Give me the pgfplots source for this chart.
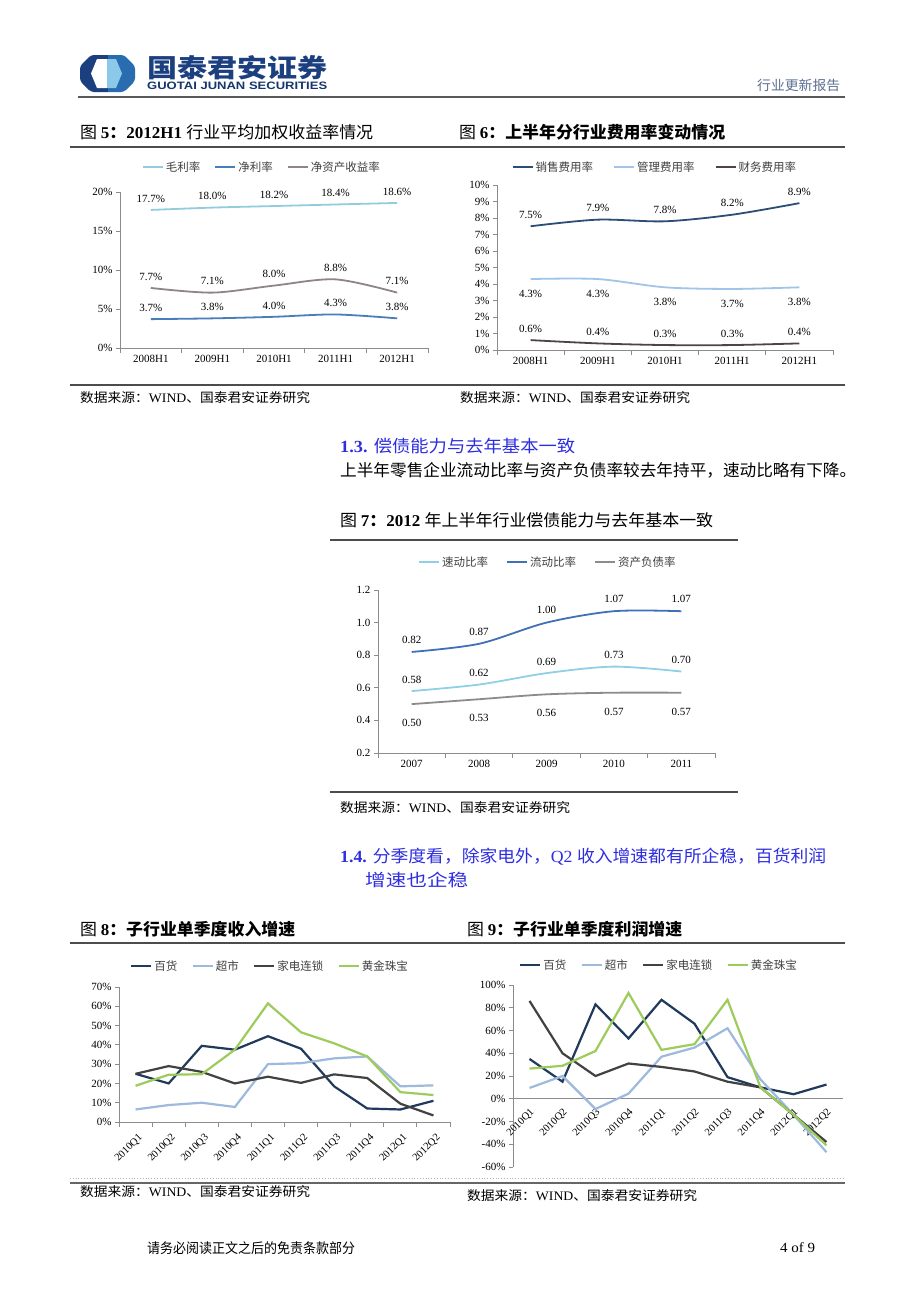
\documentclass[border=0pt]{standalone}
\usepackage{fontspec}
\setmainfont{Liberation Serif}
\newfontfamily\cjk{Noto Sans CJK SC}
\newfontfamily\sanslogo{Liberation Sans}
\usepackage{graphicx}
\usepackage{pgfplots}
\pgfplotsset{compat=1.18}
\pgfkeys{/pgf/number format/assume math mode=true}

\definecolor{cA}{HTML}{93CDDD}
\definecolor{cB}{HTML}{4A7EBB}
\definecolor{cC}{HTML}{8E8585}
\definecolor{dA}{HTML}{2C4D75}
\definecolor{dB}{HTML}{A1C4EA}
\definecolor{dC}{HTML}{4F4444}
\definecolor{eA}{HTML}{8FD0E6}
\definecolor{eB}{HTML}{4170B8}
\definecolor{eC}{HTML}{8C8C8C}
\definecolor{fA}{HTML}{1F3A5A}
\definecolor{fB}{HTML}{9DB9DE}
\definecolor{fC}{HTML}{424242}
\definecolor{fD}{HTML}{9DCB5C}
\definecolor{axgray}{HTML}{8C8C8C}
\definecolor{hblue}{HTML}{2E2EE0}
\definecolor{logoblue}{HTML}{1B3F7F}
\definecolor{logomid}{HTML}{2A6CB0}
\definecolor{logolight}{HTML}{8CC8E8}
\definecolor{hdrgray}{HTML}{5D7090}

\newcommand\fs[1]{\fontsize{#1}{#1}\selectfont}
\newcommand\fitw[2]{\resizebox{#1}{\height}{#2}}
\newcommand\src{{\cjk 数据来源：}WIND{\cjk 、国泰君安证券研究}}

\pgfplotsset{
  pg/.style={
    scale only axis, anchor=south west,
    axis x line*=bottom, axis y line*=left,
    axis line style={draw=axgray, line width=0.9pt},
    tick style={draw=axgray, line width=0.8pt},
    tick align=outside,
    major tick length=4pt, minor tick length=5pt,
    major x tick style={draw=none},
    ticklabel style={font=\fs{11}},
    legend style={draw=none, fill=none, font=\fs{11.5}, text=black!75,
      legend columns=-1, anchor=center,
      /tikz/every even column/.append style={column sep=12pt}},
    legend image code/.code={\draw[##1, line width=2pt] (0pt,0pt) -- (20pt,0pt);},
    clip=false,
    every node near coord/.append style={font=\fs{11}, text=black},
  },
  thickleg/.style={legend image code/.code={\draw[##1, line width=2.5pt] (0pt,0pt) -- (20pt,0pt);}},
  pct/.style={point meta=y, nodes near coords={\pgfmathprintnumber[fixed,fixed zerofill,precision=1]{\pgfplotspointmeta}\%}},
  dec/.style={point meta=y, nodes near coords={\pgfmathprintnumber[fixed,fixed zerofill,precision=2]{\pgfplotspointmeta}}},
  ab/.style={every node near coord/.append style={anchor=south, yshift=#1}},
  be/.style={every node near coord/.append style={anchor=north, yshift=#1}},
}

\begin{document}
\begin{tikzpicture}[x=1pt,y=1pt]
\fill[white] (0,0) rectangle (920,-1301);
\path[use as bounding box] (0,0) rectangle (920,-1301);
\coordinate (p5) at (120,-348);
\coordinate (p6) at (497,-350);
\coordinate (p7) at (378,-753);
\coordinate (p8) at (119,-1122);
\coordinate (p9) at (513,-1167);

% ---------- header ----------
\begin{scope}
\path[clip, rounded corners=3pt] (91,-55) -- (124,-55) -- (135,-66) -- (135,-81) -- (124,-92) -- (91,-92) -- (80,-81) -- (80,-66) -- cycle;
\fill[logoblue] (78,-53) rectangle (108,-94);
\fill[logomid] (108,-53) rectangle (137,-94);
\end{scope}
\begin{scope}
\path[clip] (97,-59) -- (116,-59) -- (122,-73.5) -- (116,-88) -- (97,-88) -- (91,-73.5) -- cycle;
\fill[white] (88,-57) rectangle (107,-90);
\fill[logolight] (107,-57) rectangle (124,-90);
\end{scope}
\node[anchor=west, inner sep=0, text=logoblue] at (147,-67.5) {\resizebox{180pt}{22pt}{\cjk\bfseries 国泰君安证券}};
\node[anchor=west, inner sep=0, text=logoblue!85!black] at (147,-85.5) {\resizebox{180pt}{7.5pt}{\sanslogo\bfseries GUOTAI JUNAN SECURITIES}};
\node[anchor=west, inner sep=0, text=hdrgray] at (757,-85) {\fitw{83pt}{\fs{13.5}\cjk 行业更新报告}};
\draw[line width=2pt, black!65] (78,-96.5) -- (845,-96.5);

% ---------- titles fig 5/6 ----------
\node[anchor=west, inner sep=0] at (80,-132) {\fitw{293pt}{\fs{16.5}{\cjk 图 }\textbf{5}{\cjk\bfseries ：}\textbf{2012H1} {\cjk 行业平均加权收益率情况}}};
\node[anchor=west, inner sep=0] at (459,-132) {\fitw{266pt}{\fs{16.5}{\cjk 图 }\textbf{6}{\cjk\bfseries ：上半年分行业费用率变动情况}}};
\draw[line width=2pt, black!70] (70,-147) -- (845,-147);
\draw[line width=2pt, black!70] (70,-385) -- (845,-385);
\node[anchor=west, inner sep=0] at (80,-398) {\fitw{230pt}{\fs{13}\src}};
\node[anchor=west, inner sep=0] at (460,-398) {\fitw{230pt}{\fs{13}\src}};

% ---------- Fig 5 ----------
\begin{axis}[pg, at={(p5)}, width=308pt, height=156pt,
  xmin=-0.5, xmax=4.5, ymin=0, ymax=20,
  ytick={0,5,10,15,20}, yticklabel={\pgfmathprintnumber{\tick}\%},
  xtick={0,...,4}, xticklabels={2008H1,2009H1,2010H1,2011H1,2012H1},
  minor xtick={-0.5,0.5,...,4.5},
  legend style={at={(0.461,1)}, yshift=25pt}]
\addplot[cA, line width=1.8pt, smooth, pct, ab=3.4pt] coordinates {(0,17.7)(1,18.0)(2,18.2)(3,18.4)(4,18.6)};
\addlegendentry{\cjk 毛利率}
\addplot[cB, line width=1.8pt, smooth, pct, ab=3.4pt] coordinates {(0,3.7)(1,3.8)(2,4.0)(3,4.3)(4,3.8)};
\addlegendentry{\cjk 净利率}
\addplot[cC, line width=1.8pt, smooth, pct, ab=3.4pt] coordinates {(0,7.7)(1,7.1)(2,8.0)(3,8.8)(4,7.1)};
\addlegendentry{\cjk 净资产收益率}
\end{axis}

% ---------- Fig 6 ----------
\begin{axis}[pg, at={(p6)}, width=336pt, height=165pt,
  xmin=-0.5, xmax=4.5, ymin=0, ymax=10,
  ytick={0,1,...,10}, yticklabel={\pgfmathprintnumber{\tick}\%},
  xtick={0,...,4}, xticklabels={2008H1,2009H1,2010H1,2011H1,2012H1},
  minor xtick={-0.5,0.5,...,4.5},
  legend style={at={(0.47,1)}, yshift=18pt, /tikz/every even column/.append style={column sep=18pt}}]
\addplot[dA, line width=1.8pt, smooth, pct, ab=3.4pt] coordinates {(0,7.5)(1,7.9)(2,7.8)(3,8.2)(4,8.9)};
\addlegendentry{\cjk 销售费用率}
\addplot[dB, line width=1.8pt, smooth, pct, be=-7pt] coordinates {(0,4.3)(1,4.3)(2,3.8)(3,3.7)(4,3.8)};
\addlegendentry{\cjk 管理费用率}
\addplot[dC, line width=1.8pt, smooth, pct, ab=3.4pt] coordinates {(0,0.6)(1,0.4)(2,0.3)(3,0.3)(4,0.4)};
\addlegendentry{\cjk 财务费用率}
\end{axis}

% ---------- section 1.3 ----------
\node[anchor=west, inner sep=0, text=hblue] at (340,-446) {\fitw{235pt}{\fs{17}\textbf{1.3.} {\cjk 偿债能力与去年基本一致}}};
\node[anchor=west, inner sep=0] at (340,-470) {\fitw{516pt}{\fs{16.5}\cjk 上半年零售企业流动比率与资产负债率较去年持平，速动比略有下降。}};
\node[anchor=west, inner sep=0] at (340,-520) {\fitw{373pt}{\fs{16.5}{\cjk 图 }\textbf{7}{\cjk\bfseries ：}\textbf{2012} {\cjk 年上半年行业偿债能力与去年基本一致}}};
\draw[line width=2pt, black!70] (330,-540) -- (738,-540);
\draw[line width=2pt, black!70] (330,-792) -- (738,-792);
\node[anchor=west, inner sep=0] at (340,-808) {\fitw{230pt}{\fs{13}\src}};

% ---------- Fig 7 ----------
\begin{axis}[pg, at={(p7)}, width=337pt, height=163pt,
  xmin=-0.5, xmax=4.5, ymin=0.2, ymax=1.2,
  ytick={0.2,0.4,...,1.21},
  yticklabel style={/pgf/number format/.cd, fixed, fixed zerofill, precision=1},
  xtick={0,...,4}, xticklabels={2007,2008,2009,2010,2011},
  minor xtick={-0.5,0.5,...,4.5},
  legend style={at={(0.504,1)}, yshift=28pt, /tikz/every even column/.append style={column sep=16pt}}]
\addplot[eA, line width=1.8pt, smooth, dec, ab=3.4pt] coordinates {(0,0.58)(1,0.62)(2,0.69)(3,0.73)(4,0.70)};
\addlegendentry{\cjk 速动比率}
\addplot[eB, line width=1.8pt, smooth, dec, ab=4.4pt] coordinates {(0,0.82)(1,0.87)(2,1.00)(3,1.07)(4,1.07)};
\addlegendentry{\cjk 流动比率}
\addplot[eC, line width=1.8pt, smooth, dec, be=-11pt] coordinates {(0,0.50)(1,0.53)(2,0.56)(3,0.57)(4,0.57)};
\addlegendentry{\cjk 资产负债率}
\end{axis}

% ---------- section 1.4 ----------
\node[anchor=west, inner sep=0, text=hblue] at (340,-857) {\fitw{486pt}{\fs{17}\textbf{1.4.} {\cjk 分季度看，除家电外，}Q2 {\cjk 收入增速都有所企稳，百货利润}}};
\node[anchor=west, inner sep=0, text=hblue] at (365,-880) {\fitw{103pt}{\fs{17}\cjk 增速也企稳}};

\node[anchor=west, inner sep=0] at (80,-929) {\fitw{215pt}{\fs{16.5}{\cjk 图 }\textbf{8}{\cjk\bfseries ：子行业单季度收入增速}}};
\node[anchor=west, inner sep=0] at (467,-929) {\fitw{215pt}{\fs{16.5}{\cjk 图 }\textbf{9}{\cjk\bfseries ：子行业单季度利润增速}}};
\draw[line width=2pt, black!70] (70,-943) -- (845,-943);
\draw[dotted, line width=0.8pt, black!30] (70,-1178) -- (845,-1178);
\draw[line width=1.5pt, black!60] (70,-1183) -- (845,-1183);
\node[anchor=west, inner sep=0] at (80,-1192) {\fitw{230pt}{\fs{13}\src}};
\node[anchor=west, inner sep=0] at (467,-1196) {\fitw{230pt}{\fs{13}\src}};

% ---------- Fig 8 ----------
\begin{axis}[pg, thickleg, at={(p8)}, width=331pt, height=135pt,
  xmin=-0.5, xmax=9.5, ymin=0, ymax=70,
  ytick={0,10,...,70}, yticklabel={\pgfmathprintnumber{\tick}\%},
  xtick={0,...,9},
  xticklabels={2010Q1,2010Q2,2010Q3,2010Q4,2011Q1,2011Q2,2011Q3,2011Q4,2012Q1,2012Q2},
  xticklabel style={rotate=45, anchor=north east, font=\fs{10.5}, yshift=-3pt},
  minor xtick={-0.5,0.5,...,9.5},
  legend style={at={(0.456,1)}, yshift=21pt}]
\addplot[fA, line width=2.2pt] coordinates {(0,25)(1,20)(2,39.5)(3,37.5)(4,44.5)(5,38)(6,18.5)(7,7)(8,6.5)(9,11)};
\addlegendentry{\cjk 百货}
\addplot[fB, line width=2.2pt] coordinates {(0,6.5)(1,8.8)(2,10)(3,7.8)(4,30)(5,30.5)(6,33)(7,34)(8,18.5)(9,19)};
\addlegendentry{\cjk 超市}
\addplot[fC, line width=2.2pt] coordinates {(0,25)(1,29)(2,26)(3,20)(4,23.5)(5,20.3)(6,24.7)(7,22.8)(8,9.5)(9,3.4)};
\addlegendentry{\cjk 家电连锁}
\addplot[fD, line width=2.2pt] coordinates {(0,18.8)(1,24.5)(2,24.8)(3,37.5)(4,61.5)(5,46.5)(6,40.8)(7,34)(8,15.5)(9,14)};
\addlegendentry{\cjk 黄金珠宝}
\end{axis}

% ---------- Fig 9 ----------
\begin{axis}[pg, thickleg, at={(p9)}, width=330pt, height=182pt,
  axis x line*=middle,
  xmin=-0.5, xmax=9.5, ymin=-60, ymax=100,
  ytick={-60,-40,...,100}, yticklabel={\pgfmathprintnumber{\tick}\%},
  xtick={0,...,9},
  xticklabels={2010Q1,2010Q2,2010Q3,2010Q4,2011Q1,2011Q2,2011Q3,2011Q4,2012Q1,2012Q2},
  xticklabel style={rotate=45, anchor=north east, font=\fs{10.5}},
  minor xtick={-0.5,0.5,...,9.5},
  minor x tick style={draw=none},
  legend style={at={(0.442,1)}, yshift=20pt}]
\addplot[fA, line width=2.2pt] coordinates {(0,35)(1,15)(2,83)(3,53)(4,87)(5,66)(6,19)(7,10)(8,4)(9,12.5)};
\addlegendentry{\cjk 百货}
\addplot[fB, line width=2.2pt] coordinates {(0,9.5)(1,20)(2,-9)(3,4.5)(4,37)(5,45)(6,62)(7,17)(8,-14)(9,-47)};
\addlegendentry{\cjk 超市}
\addplot[fC, line width=2.2pt] coordinates {(0,86)(1,40)(2,20)(3,31)(4,28)(5,24)(6,15)(7,10)(8,-14)(9,-38)};
\addlegendentry{\cjk 家电连锁}
\addplot[fD, line width=2.2pt] coordinates {(0,26.5)(1,29)(2,42)(3,93)(4,43)(5,48)(6,87)(7,10)(8,-14)(9,-41)};
\addlegendentry{\cjk 黄金珠宝}
\end{axis}

% ---------- footer ----------
\node[anchor=west, inner sep=0] at (147,-1248) {\fitw{208pt}{\fs{14}\cjk 请务必阅读正文之后的免责条款部分}};
\node[anchor=west, inner sep=0] at (780,-1248) {\fitw{35pt}{\fs{14}4 of 9}};
\end{tikzpicture}
\end{document}
